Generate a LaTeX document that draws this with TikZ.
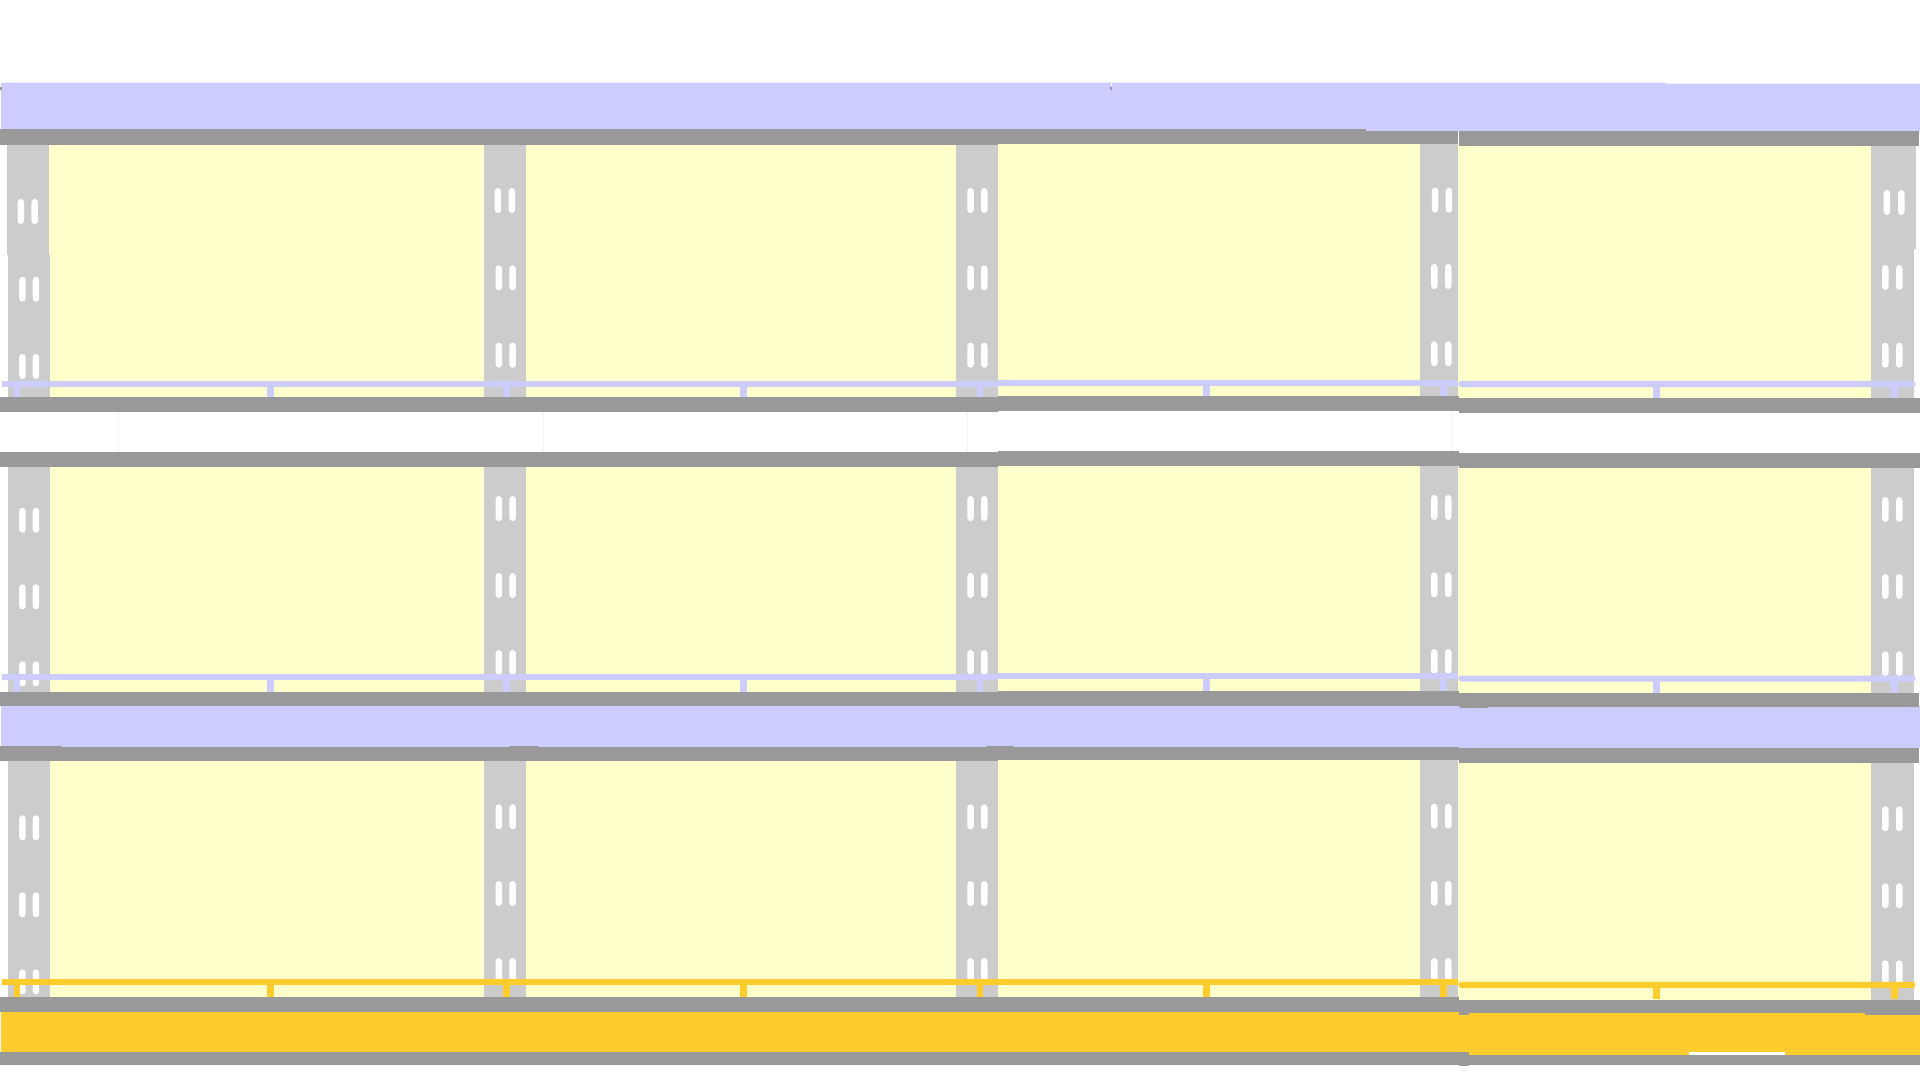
\documentclass[tikz,border=0pt]{standalone}
\definecolor{panelyellow}{HTML}{FFFFCC}
\definecolor{columngray}{HTML}{CCCCCC}
\definecolor{beamgray}{HTML}{999999}
\definecolor{bandblue}{HTML}{CCCCFF}
\definecolor{bandorange}{HTML}{FFCC2E}
\tikzset{
  panel/.style={fill=panelyellow},
  slotbar/.style={fill=white,rounded corners=3.2pt},
  faintline/.style={draw=black!5,line width=0.7pt}
}
\begin{document}
\begin{tikzpicture}[x=1pt,y=-1pt]
\useasboundingbox (0,0) rectangle (1920,1080);
\fill[white] (0,0) rectangle (1920,1080);
% faint lines in the white gap
\foreach \x in {118.4,543.3,967.3,1451.4}
  \draw[faintline] (\x,412) -- (\x,452);
% yellow panels
\foreach \ya/\yb/\yc/\yd/\ye/\yf in {145/398/144.3/397/145.7/399,
                                     467/692/466/692/467.7/694,
                                     761.3/998/760.3/998/763/1001}{
  \fill[panel] (49,\ya) rectangle (956.4,\yb);
  \fill[panel] (997.6,\yc) rectangle (1420.4,\yd);
  \fill[panel] (1458.4,\ye) rectangle (1871,\yf);
}
% columns
\fill[columngray] (6.9,144) rectangle (49,255);
\fill[columngray] (8.2,255) rectangle (49.8,398);
\fill[columngray] (483.7,144) rectangle (525.7,255);
\fill[columngray] (484,255) rectangle (526.3,398);
\fill[columngray] (1871.4,145) rectangle (1915.5,249);
\fill[columngray] (1870.6,249) rectangle (1913.5,399);
\foreach \ya/\yb in {466/692,760/998}{
  \fill[columngray] (8.2,\ya) rectangle (49.8,\yb);
  \fill[columngray] (484,\ya) rectangle (526.3,\yb);
  \fill[columngray] (1870.6,\ya+1) rectangle (1913.5,\yb+2);
}
\foreach \ya/\yb in {144/398,466/692,760/998}
  \fill[columngray] (956.3,\ya) rectangle (997.6,\yb);
\foreach \ya/\yb in {144/398,466/692,760/998}
  \fill[columngray] (1420.4,\ya) rectangle (1458.4,\yb);
% slots: left x, right x, top y
\foreach \xa/\xb/\y in {17.5/31.4/199, 19.2/32.7/276.7, 19.2/32.7/354,
                        19.2/32.7/507.7, 19.2/32.7/584.3, 19.2/32.7/661.3,
                        19.2/32.7/815.3, 19.2/32.7/892.3, 19.2/32.7/969.3,
                        494.7/508.6/188, 495.5/509.4/265.3, 495.5/509.4/342.7,
                        495.5/509.4/496, 495.5/509.4/573, 495.5/509.4/650,
                        495.5/509.4/804.3, 495.5/509.4/881, 495.5/509.4/958,
                        967.3/981/188, 967.3/981/265.3, 967.3/981/342.7,
                        967.3/981/496, 967.3/981/573, 967.3/981/650,
                        967.3/981/804.3, 967.3/981/881, 967.3/981/958,
                        1431.8/1445.7/187.7, 1431/1445/264, 1431/1445/341.3,
                        1431/1445/495, 1431/1445/572.3, 1431/1445/649,
                        1431/1445/803.7, 1431/1445/880.7, 1431/1445/958,
                        1883.7/1898/190, 1882/1896/265, 1882/1896/342.7,
                        1882/1896/497, 1882/1896/574, 1882/1896/651.3,
                        1882/1896/806.3, 1882/1896/883.3, 1882/1896/960.3}{
  \fill[slotbar] (\xa,\y) rectangle ++(6.5,25);
  \fill[slotbar] (\xb,\y) rectangle ++(6.5,25);
}
% rails and their posts
\foreach \col/\ya/\yb/\yc/\ybase in {bandblue/380.8/379.5/380.9/398,
                                     bandblue/673.8/672.8/675.5/692,
                                     bandorange/979.1/979.1/981.8/998}{
  \fill[\col] (2,\ya) rectangle (997.6,\ya+6.2);
  \fill[\col] (997.6,\yb) rectangle (1458.4,\yb+6.2);
  \fill[\col,rounded corners=3pt] (1458.4,\yc) -- (1915.5,\yc) -- (1915.5,\yc+6.2) -- (1458.4,\yc+6.2) -- cycle;
  \foreach \x in {13.5,266.7,503.3,739.8,976.5}
    \fill[\col] (\x,\ya+5) rectangle ++(6.8,{\ybase-\ya-5});
  \foreach \x in {1202.8,1440.2}
    \fill[\col] (\x,\yb+5) rectangle ++(6.8,{\ybase-\yb-5});
  \foreach \x in {1653.3,1891.2}
    \fill[\col] (\x,\yc+5) rectangle ++(6.8,{\ybase+1-\yc-5});
}
% top blue band
\fill[bandblue] (1,82.7) -- (1665.7,82.7) -- (1665.7,83.7) -- (1920,83.7)
  -- (1920,131) -- (1,131) -- cycle;
% middle blue band
\fill[bandblue] (1,706) rectangle (1920,748);
% bottom orange band
\fill[bandorange] (1,1011.5) rectangle (1458.5,1052.5);
\fill[bandorange] (1458.5,1012) rectangle (1920,1055.5);
\fill[white] (1689,1052.3) rectangle (1785,1055);
% beams: top of upper storey
\fill[beamgray] (0,129.3) rectangle (997.6,145);
\fill[beamgray] (997.6,129.3) rectangle (1365.7,144.3);
\fill[beamgray] (1365.7,130.7) rectangle (1458.4,144.3);
\fill[beamgray] (1458.8,130.7) rectangle (1919,145.7);
% beams: foot of upper storey
\fill[beamgray] (0,397.3) rectangle (997.6,412.3);
\fill[beamgray] (997.6,396.3) rectangle (1458.5,411.3);
\fill[beamgray] (1458.5,398.3) rectangle (1920,413);
% beams: top of middle storey
\fill[beamgray] (0,452.3) rectangle (997.6,467);
\fill[beamgray] (997.6,451) rectangle (1458.5,466);
\fill[beamgray] (1458.5,452.7) rectangle (1920,467.7);
% beams: foot of middle storey
\fill[beamgray] (0,691.7) rectangle (997.6,706.3);
\fill[beamgray] (997.6,691) rectangle (1458.5,706.3);
\fill[beamgray] (1458.5,693.3) rectangle (1919,706.7);
% beams: top of lower storey
\fill[beamgray] (0,747.3) rectangle (997.6,761.3);
\fill[beamgray] (997.6,747.3) rectangle (1458.5,760.3);
\fill[beamgray] (1458.5,748) rectangle (1919,763);
\fill[beamgray] (0,746) rectangle (62.4,748);
\fill[beamgray] (510,746) rectangle (538,748);
\fill[beamgray] (985.7,745.5) rectangle (1013.5,748);
\fill[beamgray] (1459.6,706) rectangle (1488.2,708.3);
% beams: foot of lower storey
\fill[beamgray] (0,997.3) rectangle (1458.5,1012);
\fill[beamgray] (1458.5,1000) rectangle (1920,1012.7);
\fill[beamgray] (1458.5,1012) rectangle (1468.6,1015);
\fill[beamgray] (1865,1012) rectangle (1920,1015);
% bottom beam
\fill[beamgray] (0,1052) rectangle (1458.5,1065.3);
\fill[beamgray] (1458.5,1055) rectangle (1920,1065);
\fill[beamgray] (0,1051.5) rectangle (80,1053);
\fill[beamgray] (477,1051.5) rectangle (564,1053);
\fill[beamgray] (960.4,1051.5) rectangle (1047,1053);
\fill[beamgray] (1442,1051.5) rectangle (1458.5,1053);
\fill[beamgray] (1458.5,1052) rectangle (1468.6,1065.6);
% small specks on the top band
\fill[white] (1110.6,82) rectangle (1112.2,86);
\fill[beamgray] (1110.4,87) rectangle (1112.4,90);
\fill[beamgray] (0,87) rectangle (1.5,90);
\end{tikzpicture}
\end{document}
